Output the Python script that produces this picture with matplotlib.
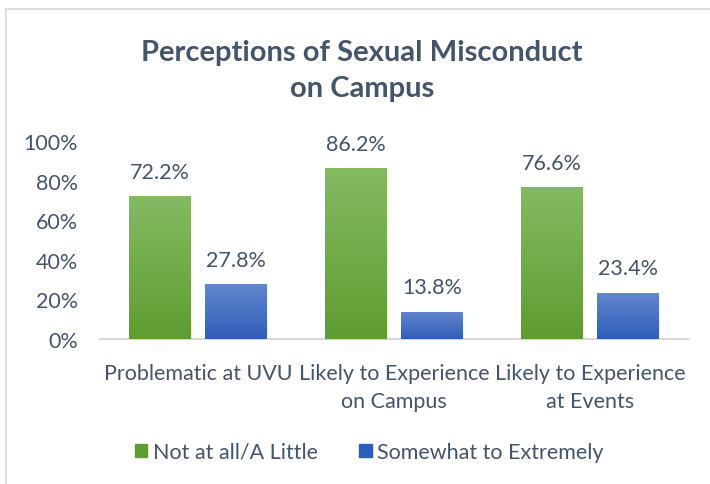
import matplotlib
matplotlib.use("Agg")
import matplotlib.pyplot as plt
import numpy as np
from matplotlib.colors import LinearSegmentedColormap
from matplotlib.patches import Rectangle

categories = ["Problematic at UVU", "Likely to Experience\non Campus", "Likely to Experience\nat Events"]
series_names = ["Not at all/A Little", "Somewhat to Extremely"]
not_at_all = [72.2, 86.2, 76.6]
somewhat = [27.8, 13.8, 23.4]
yticks = [0, 20, 40, 60, 80, 100]
title = "Perceptions of Sexual Misconduct\non Campus"

text_color = "#44546A"
green_top, green_bot = "#84BA62", "#5E9D31"
blue_top, blue_bot = "#6388CE", "#2E5DB9"

plt.rcParams['font.family'] = ['Lato', 'DejaVu Sans']
fs = 15.5

fig = plt.figure(figsize=(7.1, 4.85), dpi=100)
ax = fig.add_axes([100/710, 1-340/485, 588/710, (340-142)/485])

# frame lines
fig.add_artist(plt.Line2D([6/710, 6/710], [0, 1-10/485], color="#D9DEE4", lw=1.5))
fig.add_artist(plt.Line2D([6/710, 1], [1-10/485, 1-10/485], color="#D9DEE4", lw=1.5))

x = np.arange(len(categories))
w = 0.316
off = 0.194

def grad_bars(xpos, vals, top, bot, label):
    bars = ax.bar(xpos, vals, width=w, color=bot, label=label, zorder=2)
    cmap = LinearSegmentedColormap.from_list("g", [bot, top])
    grad = np.linspace(0, 1, 256).reshape(-1, 1)
    for b in bars:
        x0, y0 = b.get_x(), b.get_y()
        im = ax.imshow(grad, cmap=cmap, aspect="auto", origin="lower",
                       extent=[x0, x0 + b.get_width(), y0, y0 + b.get_height()], zorder=3)
        im.set_clip_path(b)
    for xi, v in zip(xpos, vals):
        ax.annotate(f"{v:.1f}%", (xi, v), xytext=(0, 17.5), textcoords="offset points",
                    ha="center", va="center", fontsize=fs, color=text_color)
    return bars

grad_bars(x - off, not_at_all, green_top, green_bot, series_names[0])
grad_bars(x + off, somewhat, blue_top, blue_bot, series_names[1])

ax.set_xlim(-0.5, 2.5)
ax.set_ylim(0, 100)
ax.set_yticks(yticks)
ax.set_yticklabels([f"{t}%" for t in yticks], fontsize=fs, color=text_color)
ax.set_xticks(x)
ax.set_xticklabels(categories, fontsize=fs, color=text_color, linespacing=1.5)
ax.tick_params(axis="both", length=0)
ax.tick_params(axis="y", pad=16)
ax.tick_params(axis="x", pad=17)
for s in ["top", "right", "left"]:
    ax.spines[s].set_visible(False)
ax.spines["bottom"].set_color("#D9D9D9")
ax.spines["bottom"].set_linewidth(1.5)

fig.text(362/710, 1-71/485, title, ha="center", va="center", fontsize=21, fontweight="bold",
         color=text_color, linespacing=1.5)

handles = [Rectangle((0, 0), 1, 1, color=green_bot), Rectangle((0, 0), 1, 1, color=blue_bot)]
fig.legend(handles, series_names, loc="center", bbox_to_anchor=(369/710, 1-453/485), ncol=2,
           frameon=False, fontsize=fs, labelcolor=text_color, handlelength=0.6, handleheight=0.6,
           handletextpad=0.25, columnspacing=1.9)

fig.savefig("out.png", dpi=100)
